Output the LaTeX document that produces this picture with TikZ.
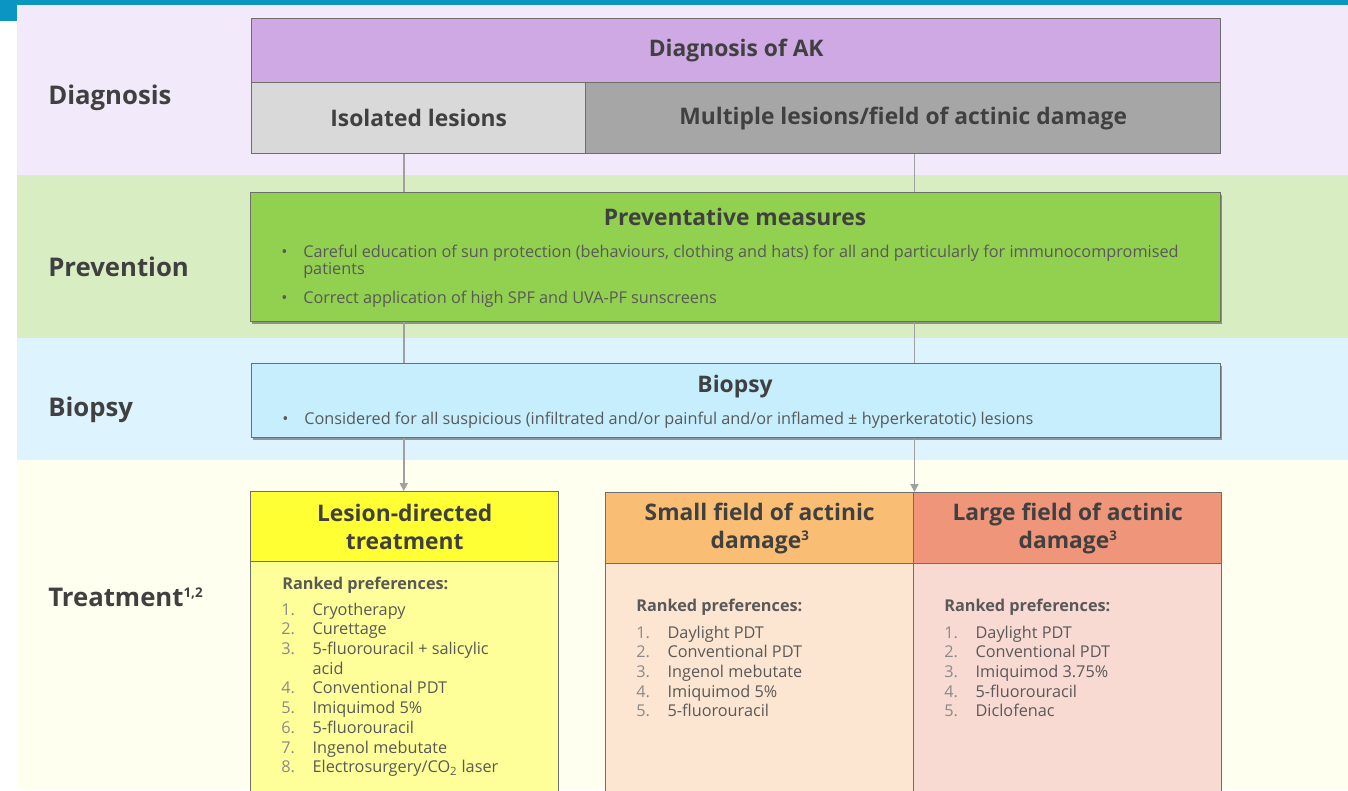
\documentclass[tikz,border=0pt]{standalone}
\usepackage{fontspec}
\setmainfont{Open Sans}
\usetikzlibrary{shadows,arrows.meta}
\definecolor{topblue}{HTML}{0A96C0}
\definecolor{bandD}{HTML}{F2E9FA}
\definecolor{bandP}{HTML}{D9EDC3}
\definecolor{bandB}{HTML}{DDF3FD}
\definecolor{bandT}{HTML}{FEFFEF}
\definecolor{cPurple}{HTML}{CEA9E3}
\definecolor{cIso}{HTML}{D9D9D9}
\definecolor{cMult}{HTML}{A6A6A6}
\definecolor{cGreen}{HTML}{92D050}
\definecolor{cBiop}{HTML}{C6EEFD}
\definecolor{cYelH}{HTML}{FFFF33}
\definecolor{cYelB}{HTML}{FFFF99}
\definecolor{cOrH}{HTML}{F9BE74}
\definecolor{cOrB}{HTML}{FCE6D2}
\definecolor{cSalH}{HTML}{EF957A}
\definecolor{cSalB}{HTML}{F9DAD3}
\definecolor{txtDark}{HTML}{404040}
\definecolor{txtBody}{HTML}{595959}
\definecolor{txtNum}{HTML}{8A8A8A}
\definecolor{boxLine}{HTML}{6E6E6E}
\definecolor{connLine}{HTML}{A0A0A0}
\newcommand{\headfnt}{\fontsize{17.1}{21}\selectfont\bfseries}
\newcommand{\labelfnt}{\fontsize{19.3}{22}\selectfont\bfseries}
\newcommand{\bodyfnt}{\fontsize{12.2}{14.8}\selectfont}
\newcommand{\numitem}[2]{\makebox[23.5pt][l]{\textcolor{txtNum}{#1}}#2}
\newcommand{\supsmall}[1]{\raisebox{0.6ex}{\fontsize{10}{10}\selectfont #1}}
\begin{document}
\begin{tikzpicture}[x=0.75pt,y=-0.75pt,
  box/.style={draw=boxLine, line width=1.1pt, inner sep=0pt, anchor=north west, text=txtDark, font=\headfnt, align=center},
  shbox/.style={box, drop shadow={shadow xshift=1.2pt, shadow yshift=-1.5pt, opacity=0.55, fill=black!70}},
  sidelabel/.style={anchor=base west, text=txtDark, font=\labelfnt, inner sep=0pt},
  title/.style={anchor=base, text=txtDark, font=\headfnt, inner sep=0pt},
  bullet/.style={anchor=base west, text=txtBody, font=\bodyfnt, inner sep=0pt},
  rank/.style={anchor=base west, text=txtBody, font=\bodyfnt\bfseries, inner sep=0pt},
  conn/.style={draw=connLine, line width=1.2pt},
  arr/.style={conn, -{Triangle[length=6pt,width=6pt]}}
]
\useasboundingbox (0,0) rectangle (1348,790);
\begin{scope}
\clip (0,0) rectangle (1348,790);
% bands
\fill[bandD] (17,4) rectangle (1348,175);
\fill[bandP] (17,175) rectangle (1348,338);
\fill[bandB] (17,338) rectangle (1348,460);
\fill[bandT] (17,460) rectangle (1348,790);
\fill[topblue] (0,0) rectangle (1348,4.5);
\fill[topblue] (0,0) rectangle (17,21);

% side labels
\node[sidelabel] (lD) at (48,104) {Diagnosis};
\node[sidelabel] (lP) at (48,276) {Prevention};
\node[sidelabel] (lB) at (48,416) {Biopsy};
\node[sidelabel] (lT) at (48,606) {Treatment\supsmall{1,2}};

% diagnosis
\node[box, fill=cPurple, minimum width=726.75pt, minimum height=48pt] (diag) at (251,18) {Diagnosis of AK};
\node[box, fill=cIso, minimum width=250.5pt, minimum height=53.25pt] (iso) at (251,82) {Isolated lesions};
\node[box, fill=cMult, minimum width=476.25pt, minimum height=53.25pt] (mult) at (585,82) {\vphantom{I}Multiple lesions/field of actinic damage\vphantom{g}};

% prevention
\node[shbox, fill=cGreen, minimum width=727.5pt, minimum height=96.75pt] (prev) at (250,192) {};
\node[title] (prevT) at (735,225) {Preventative measures};
\node[bullet] (pb1) at (281,257) {•};
\node[bullet] (pt1) at (303,257) {\begin{tabular}[t]{@{}l@{}}Careful education of sun protection (behaviours, clothing and hats) for all and particularly for immunocompromised\\[-1.6pt]patients\end{tabular}};
\node[bullet] (pb2) at (281,303) {•};
\node[bullet] (pt2) at (303,303) {Correct application of high SPF and UVA-PF sunscreens};

% biopsy
\node[shbox, fill=cBiop, minimum width=726.75pt, minimum height=55.5pt] (biop) at (251,363) {};
\node[title] (biopT) at (735,392) {Biopsy};
\node[bullet] (bb1) at (282,424) {•};
\node[bullet] (bt1) at (304,424) {Considered for all suspicious (infiltrated and/or painful and/or inflamed ± hyperkeratotic) lesions};

% treatment boxes
\node[box, fill=cYelB, minimum width=231pt, minimum height=180pt] (lesB) at (250,561) {};
\node[box, fill=cYelH, minimum width=231pt, minimum height=52.5pt] (lesH) at (250,491) {Lesion-directed\\treatment};
\node[box, fill=cOrB, minimum width=231pt, minimum height=180pt] (smB) at (605,563) {};
\node[box, fill=cOrH, minimum width=231pt, minimum height=53.25pt] (smH) at (605,492) {Small field of actinic\\damage\supsmall{3}};
\node[box, fill=cSalB, minimum width=231pt, minimum height=180pt] (lgB) at (913,563) {};
\node[box, fill=cSalH, minimum width=231pt, minimum height=53.25pt] (lgH) at (913,492) {Large field of actinic\\damage\supsmall{3}};

% lists
\node[rank] (lesR) at (282,589) {Ranked preferences:};
\node[bullet] (lesL) at (281,615) {\begin{tabular}[t]{@{}l@{}}
\numitem{1.}{Cryotherapy}\\
\numitem{2.}{Curettage}\\
\numitem{3.}{5-fluorouracil + salicylic}\\
\numitem{}{acid}\\
\numitem{4.}{Conventional PDT}\\
\numitem{5.}{Imiquimod 5\%}\\
\numitem{6.}{5-fluorouracil}\\
\numitem{7.}{Ingenol mebutate}\\
\numitem{8.}{Electrosurgery/CO\textsubscript{2} laser}
\end{tabular}};

\node[rank] (smR) at (636,611) {Ranked preferences:};
\node[bullet] (smL) at (636,638) {\begin{tabular}[t]{@{}l@{}}
\numitem{1.}{Daylight PDT}\\
\numitem{2.}{Conventional PDT}\\
\numitem{3.}{Ingenol mebutate}\\
\numitem{4.}{Imiquimod 5\%}\\
\numitem{5.}{5-fluorouracil}
\end{tabular}};

\node[rank] (lgR) at (944,611) {Ranked preferences:};
\node[bullet] (lgL) at (944,638) {\begin{tabular}[t]{@{}l@{}}
\numitem{1.}{Daylight PDT}\\
\numitem{2.}{Conventional PDT}\\
\numitem{3.}{Imiquimod 3.75\%}\\
\numitem{4.}{5-fluorouracil}\\
\numitem{5.}{Diclofenac}
\end{tabular}};

% connectors
\coordinate (cL) at ([xshift=-0.75pt]lesH.north);
\coordinate (cR) at (smH.north east);
\draw[conn] (iso.south -| cL) -- (prev.north -| cL);
\draw[conn] (mult.south -| cR) -- (prev.north -| cR);
\draw[conn] (prev.south -| cL) -- (biop.north -| cL);
\draw[conn] (prev.south -| cR) -- (biop.north -| cR);
\draw[arr] (biop.south -| cL) -- (lesH.north -| cL);
\draw[arr] (biop.south -| cR) -- (cR);
\end{scope}
\end{tikzpicture}
\end{document}
